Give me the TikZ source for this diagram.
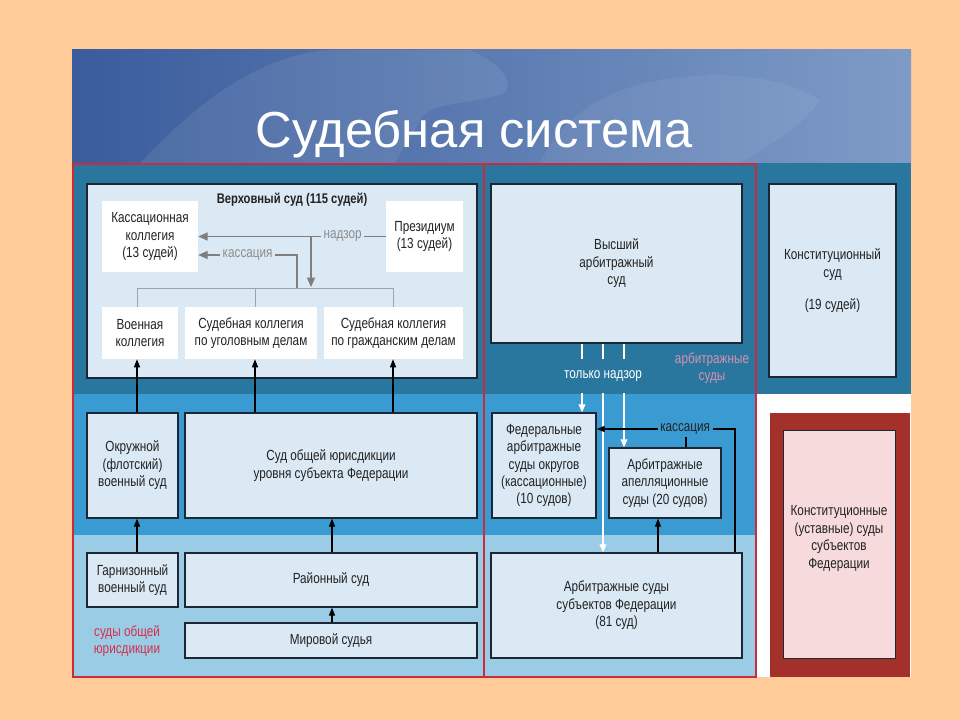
\documentclass[tikz,border=0pt]{standalone}
\usepackage{fontspec}
\setmainfont{Liberation Sans}
\newfontfamily\narrowfont[FakeStretch=0.8]{Liberation Sans}
\usetikzlibrary{arrows.meta,calc}
\definecolor{peach}{HTML}{FFCC99}
\definecolor{bannerL}{HTML}{3A5C9C}
\definecolor{bannerR}{HTML}{7E9BC7}
\definecolor{darkband}{HTML}{29779F}
\definecolor{midband}{HTML}{3A9BD2}
\definecolor{lightband}{HTML}{9BCCE6}
\definecolor{boxfill}{HTML}{DAE9F4}
\definecolor{boxline}{HTML}{1C2733}
\definecolor{redline}{HTML}{CC2B3B}
\definecolor{txt}{HTML}{222222}
\definecolor{arrgray}{HTML}{7E7E7E}
\definecolor{labelgray}{HTML}{8C8C8C}
\definecolor{brackgray}{HTML}{9AA6AF}
\definecolor{mycrimson}{HTML}{D62E4C}
\definecolor{pinklabel}{HTML}{D890B4}
\definecolor{konstred}{HTML}{A3302B}
\definecolor{konstpink}{HTML}{F6DADC}
\begin{document}
\begin{tikzpicture}[x=0.75pt,y=-0.75pt,
  every node/.style={font=\narrowfont\fontsize{11}{13.1}\selectfont, text=txt, align=center},
  sz/.style 2 args={minimum width=#1*0.75pt, minimum height=#2*0.75pt},
  box/.style={draw=boxline, fill=boxfill, line width=0.9pt, inner sep=0pt},
  wbox/.style={fill=white, inner sep=0pt},
  grayarr/.style={draw=arrgray, line width=0.9pt, -{Triangle[length=7pt,width=6pt]}},
  thingray/.style={draw=brackgray, line width=0.7pt},
  blkarr/.style={draw=black, line width=0.8pt, -{Triangle[length=6pt,width=4.5pt]}},
  blkline/.style={draw=black, line width=0.8pt},
  whitearr/.style={draw=white, line width=1.1pt, -{Triangle[length=6pt,width=5pt]}},
  graytext/.style={text=labelgray, inner sep=2pt},
]
\useasboundingbox (0,0) rectangle (960,720);
\fill[peach] (0,0) rectangle (960,720);
% banner
\shade[left color=bannerL, right color=bannerR] (72,50) rectangle (911,163);
\fill[white, opacity=0.08] (140,163) .. controls (200,100) and (260,55) .. (330,50) -- (470,50)
  .. controls (495,60) and (515,80) .. (505,92) .. controls (480,105) and (430,100) .. (420,120)
  .. controls (410,140) and (400,152) .. (395,163) -- cycle;
\fill[white, opacity=0.06] (540,163) .. controls (560,120) and (600,90) .. (660,80)
  .. controls (720,70) and (780,75) .. (820,100) .. controls (800,130) and (760,150) .. (740,163) -- cycle;
\node[anchor=base, font=\fontsize{38}{41}\selectfont, text=white] (title) at (474,148) {Судебная система};
% bands
\fill[darkband] (73,163) rectangle (911,394);
\fill[midband] (73,394) rectangle (756,535);
\fill[lightband] (73,535) rectangle (756,677);
\fill[white] (756,394) rectangle (911,677);
\draw[redline, line width=1.3pt] (73,164) rectangle (484,677);
\draw[redline, line width=1.3pt] (484,164) rectangle (756,677);
% supreme court
\node[box, sz={390}{194}] (vs) at (282,281) {};
\node[font=\narrowfont\bfseries\fontsize{10.5}{13}\selectfont] (vstitle) at (292,200) {Верховный суд (115 судей)};
\node[wbox, sz={96}{71}] (kass) at (150,236.5) {Кассационная\\коллегия\\(13 судей)};
\node[wbox, sz={77}{71}] (prez) at (424.5,236.5) {Президиум\\(13 судей)};
\node[wbox, sz={76}{52}] (voen) at (140,333) {Военная\\коллегия};
\node[wbox, sz={132}{52}] (ugol) at (251,333) {Судебная коллегия\\по уголовным делам};
\node[wbox, sz={139}{52}] (grazh) at (393.5,333) {Судебная коллегия\\по гражданским делам};
% lower general courts
\node[box, sz={91}{105}] (okr) at (132.5,465.5) {Окружной\\(флотский)\\военный суд};
\node[box, sz={292}{105}] (subj) at (331,465.5) {Суд общей юрисдикции\\уровня субъекта Федерации};
\node[box, sz={91}{54}] (garn) at (132.5,580) {Гарнизонный\\военный суд};
\node[box, sz={292}{54}] (rayon) at (331,580) {Районный суд};
\node[box, sz={292}{35}] (mir) at (331,640.5) {Мировой судья};
\node[text=mycrimson] (sojlabel) at (127,641) {суды общей\\юрисдикции};
% arbitration
\node[box, sz={251}{159}] (vas) at (616.5,263.5) {Высший\\арбитражный\\суд};
\node[box, sz={104}{105}] (fed) at (544,465.5) {Федеральные\\арбитражные\\суды округов\\(кассационные)\\(10 судов)};
\node[box, sz={112}{70}] (apel) at (665,483) {Арбитражные\\апелляционные\\суды (20 судов)};
\node[box, sz={251}{105}] (arbs) at (616.5,605.5) {Арбитражные суды\\субъектов Федерации\\(81 суд)};
\node[text=pinklabel] (arblabel) at (712,368) {арбитражные\\суды};
% constitutional
\node[box, sz={127}{193}] (ks) at (832.5,280.5) {Конституционный\\суд\\[11pt](19 судей)};
\node[fill=konstred, inner sep=0pt, sz={140}{264}] (kfr) at (840,545) {};
\node[fill=konstpink, draw=boxline, line width=0.6pt, inner sep=0pt, sz={112}{228}] (kfi) at (839,544) {Конституционные\\(уставные) суды\\субъектов\\Федерации\\[-2.6pt]\mbox{}};
% connectors inside supreme court
\coordinate (nzturn) at (311,236.5);
\coordinate (brk) at (311,287);
\coordinate (bl) at (137,288);
\coordinate (bm) at (255,288);
\coordinate (br) at (393,288);
\coordinate (kstart) at (297,288);
\coordinate (kturn) at (297,255);
\draw[thingray] (bl) -- (br);
\draw[thingray] (bl) -- (bl |- voen.north);
\draw[thingray] (bm) -- (bm |- ugol.north);
\draw[thingray] (br) -- (br |- grazh.north);
\draw[grayarr] (nzturn) -- (brk);
\draw[grayarr] (prez.west) -- node[graytext, fill=boxfill, pos=0.23] {надзор} (kass.east);
\draw[grayarr] (kstart) -- (kturn) -- node[graytext, fill=boxfill, pos=0.5] {кассация} (kturn -| kass.east);
% black arrows left
\coordinate (rx) at (332,0);
\draw[blkarr] (bl |- okr.north) -- (bl |- voen.south);
\draw[blkarr] (bm |- subj.north) -- (bm |- ugol.south);
\draw[blkarr] (br |- subj.north) -- (br |- grazh.south);
\draw[blkarr] (bl |- garn.north) -- (bl |- okr.south);
\draw[blkarr] (rx |- rayon.north) -- (rx |- subj.south);
\draw[blkarr] (rx |- mir.north) -- (rx |- rayon.south);
% arbitration connectors
\coordinate (w1) at (582,0);
\coordinate (w2) at (603,0);
\coordinate (w3) at (624,0);
\draw[whitearr] (w1 |- vas.south) -- (w1 |- fed.north);
\draw[whitearr] (w2 |- vas.south) -- (w2 |- arbs.north);
\draw[whitearr] (w3 |- vas.south) -- (w3 |- apel.north);
\node[fill=darkband, text=white, minimum height=25pt, inner sep=2pt] (tnlabel) at (603,376) {только надзор};
\coordinate (kk) at (735,429);
\coordinate (kt) at (686,437);
\coordinate (ax) at (658,0);
\draw[blkarr] (kk |- arbs.north) -- (kk) -- node[fill=midband, pos=0.36, inner sep=2pt] {кассация} (kk -| fed.east);
\draw[blkline] (kt) -- (kt |- apel.north);
\draw[blkarr] (ax |- arbs.north) -- (ax |- apel.south);
\end{tikzpicture}
\end{document}
